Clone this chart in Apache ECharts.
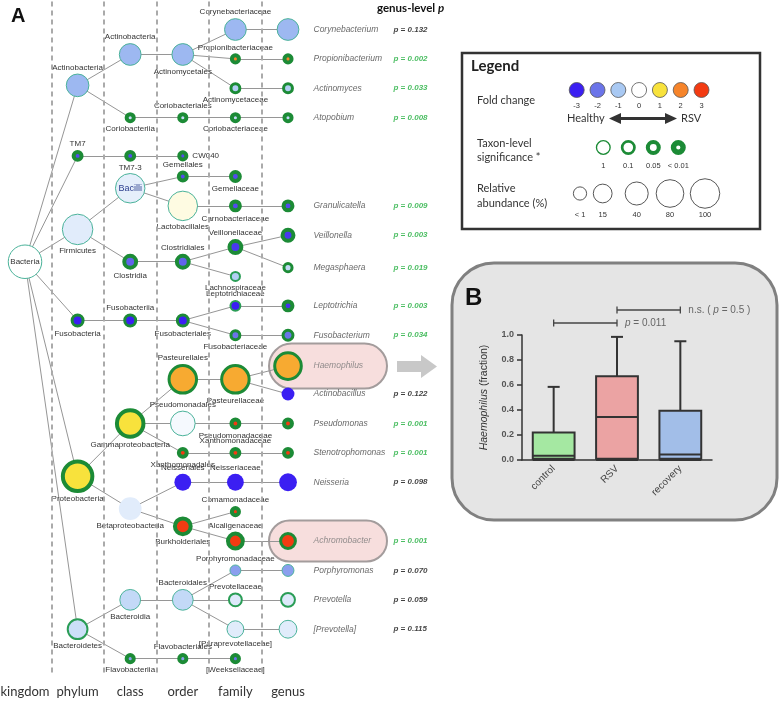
<!DOCTYPE html>
<html><head><meta charset="utf-8">
<script src="https://cdn.jsdelivr.net/npm/echarts@6/dist/echarts.min.js"></script>
<style>html,body{margin:0;padding:0;background:#fff}#c{width:779px;height:701px}</style>
</head><body><div id="c"></div>
<script>
// ---------------- data ----------------
const levels = ['kingdom', 'phylum', 'class', 'order', 'family', 'genus'];

// [name, level, parent (one level up), log fold change, taxon-level p, relative abundance %]
const taxa = [
  ['Bacteria', 0, null, 0, 1, 100],
  ['Actinobacteria', 1, 'Bacteria', -1.2, 0.5, 31],
  ['TM7', 1, 'Bacteria', -2.5, 0.005, 0.6],
  ['Firmicutes', 1, 'Bacteria', -0.35, 1, 77],
  ['Fusobacteria', 1, 'Bacteria', -3, 0.03, 2.6],
  ['Proteobacteria', 1, 'Bacteria', 1, 0.005, 92],
  ['Bacteroidetes', 1, 'Bacteria', -0.6, 0.08, 23],
  ['Actinobacteria', 2, 'Actinobacteria', -1.2, 1, 27],
  ['Coriobacteriia', 2, 'Actinobacteria', -0.7, 0.005, 0.2],
  ['TM7-3', 2, 'TM7', -2.5, 0.005, 0.6],
  ['Bacilli', 2, 'Firmicutes', -0.3, 1, 70],
  ['Clostridia', 2, 'Firmicutes', -2.2, 0.005, 5.8],
  ['Fusobacteriia', 2, 'Fusobacteria', -3, 0.03, 2.6],
  ['Gammaproteobacteria', 2, 'Proteobacteria', 1, 0.005, 70],
  ['Betaproteobacteria', 2, 'Proteobacteria', -0.35, null, 27],
  ['Bacteroidia', 2, 'Bacteroidetes', -0.7, 1, 23],
  ['Flavobacteriia', 2, 'Bacteroidetes', -1.5, 0.005, 0.2],
  ['Actinomycetales', 3, 'Actinobacteria', -1.2, 1, 27],
  ['Coriobacteriales', 3, 'Coriobacteriia', -0.7, 0.005, 0.2],
  ['CW040', 3, 'TM7-3', -2.5, 0.005, 0.2],
  ['Gemellales', 3, 'Bacilli', -2.5, 0.005, 0.6],
  ['Lactobacillales', 3, 'Bacilli', 0.15, 1, 70],
  ['Clostridiales', 3, 'Clostridia', -2.2, 0.005, 5.8],
  ['Fusobacteriales', 3, 'Fusobacteriia', -3, 0.03, 2.6],
  ['Pasteurellales', 3, 'Gammaproteobacteria', 1.6, 0.03, 70],
  ['Pseudomonadales', 3, 'Gammaproteobacteria', -0.12, 1, 41],
  ['Xanthomonadales', 3, 'Gammaproteobacteria', 3, 0.005, 0.6],
  ['Neisseriales', 3, 'Betaproteobacteria', -3, null, 7.8],
  ['Burkholderiales', 3, 'Betaproteobacteria', 3, 0.005, 16],
  ['Bacteroidales', 3, 'Bacteroidia', -0.7, 1, 23],
  ['Flavobacteriales', 3, 'Flavobacteriia', -1.5, 0.005, 0.2],
  ['Corynebacteriaceae', 4, 'Actinomycetales', -1.2, 1, 27],
  ['Propionibacteriaceae', 4, 'Actinomycetales', 2, 0.005, 0.2],
  ['Actinomycetaceae', 4, 'Actinomycetales', -0.9, 0.03, 0.6],
  ['Coriobacteriaceae', 4, 'Coriobacteriales', -0.7, 0.005, 0.2],
  ['Gemellaceae', 4, 'Gemellales', -2.5, 0.005, 1.4],
  ['Carnobacteriaceae', 4, 'Lactobacillales', -2.5, 0.005, 1.4],
  ['Veillonellaceae', 4, 'Clostridiales', -2.7, 0.005, 5.8],
  ['Lachnospiraceae', 4, 'Clostridiales', -0.9, 0.08, 0.2],
  ['Leptotrichiaceae', 4, 'Fusobacteriales', -3, 0.08, 0.6],
  ['Fusobacteriaceae', 4, 'Fusobacteriales', -2, 0.03, 0.6],
  ['Pasteurellaceae', 4, 'Pasteurellales', 1.6, 0.03, 70],
  ['Pseudomonadaceae', 4, 'Pseudomonadales', 3, 0.005, 0.6],
  ['Xanthomonadaceae', 4, 'Xanthomonadales', 3, 0.005, 0.6],
  ['Neisseriaceae', 4, 'Neisseriales', -3, null, 7.8],
  ['Comamonadaceae', 4, 'Burkholderiales', 3, 0.005, 0.2],
  ['Alcaligenaceae', 4, 'Burkholderiales', 3, 0.005, 13],
  ['Porphyromonadaceae', 4, 'Bacteroidales', -1.5, 0.5, 0.6],
  ['Prevotellaceae', 4, 'Bacteroidales', -0.4, 0.08, 4],
  ['[Paraprevotellaceae]', 4, 'Bacteroidales', -0.35, 1, 10.2],
  ['[Weeksellaceae]', 4, 'Flavobacteriales', -2, 0.005, 0.2],
  ['Corynebacterium', 5, 'Corynebacteriaceae', -1.2, 1, 27],
  ['Propionibacterium', 5, 'Propionibacteriaceae', 2, 0.005, 0.2],
  ['Actinomyces', 5, 'Actinomycetaceae', -0.9, 0.03, 0.6],
  ['Atopobium', 5, 'Coriobacteriaceae', -0.7, 0.005, 0.2],
  ['Granulicatella', 5, 'Carnobacteriaceae', -2.5, 0.005, 1.4],
  ['Veillonella', 5, 'Veillonellaceae', -2.7, 0.005, 4],
  ['Megasphaera', 5, 'Veillonellaceae', -0.7, 0.03, 0.2],
  ['Leptotrichia', 5, 'Leptotrichiaceae', -2.8, 0.005, 1.4],
  ['Fusobacterium', 5, 'Fusobacteriaceae', -2, 0.03, 1.4],
  ['Haemophilus', 5, 'Pasteurellaceae', 1.6, 0.03, 64],
  ['Actinobacillus', 5, 'Pasteurellaceae', -3, null, 1.4],
  ['Pseudomonas', 5, 'Pseudomonadaceae', 3, 0.005, 0.6],
  ['Stenotrophomonas', 5, 'Xanthomonadaceae', 3, 0.005, 0.6],
  ['Neisseria', 5, 'Neisseriaceae', -3, null, 10.2],
  ['Achromobacter', 5, 'Alcaligenaceae', 3, 0.03, 10.2],
  ['Porphyromonas', 5, 'Porphyromonadaceae', -1.5, 0.5, 1.4],
  ['Prevotella', 5, 'Prevotellaceae', -0.4, 0.08, 5.8],
  ['[Prevotella]', 5, '[Paraprevotellaceae]', -0.35, 1, 13]
];

// tree layout: row of each taxon (same order as taxa)
const layoutRow = [
  7.9,
  1.9, 4.3, 6.8, 9.9, 15.2, 20.4,
  0.85, 3.0, 4.3, 5.4, 7.9, 9.9, 13.4, 16.3, 19.4, 21.4,
  0.85, 3.0, 4.3, 5.0, 6.0, 7.9, 9.9, 11.9, 13.4, 14.4, 15.4, 16.9, 19.4, 21.4,
  0, 1, 2, 3, 5, 6, 7.4, 8.4, 9.4, 10.4, 11.9, 13.4, 14.4, 15.4, 16.4, 17.4, 18.4, 19.4, 20.4, 21.4,
  0, 1, 2, 3, 6, 7.0, 8.1, 9.4, 10.4, 11.45, 12.4, 13.4, 14.4, 15.4, 17.4, 18.4, 19.4, 20.4
];
const labelSide = [
  'inside',
  'top', 'top', 'bottom', 'bottom', 'bottom', 'bottom',
  'top', 'bottom', 'bottom', 'inside', 'bottom', 'top', 'bottom', 'bottom', 'bottom', 'bottom',
  'bottom', 'top', 'right', 'top', 'bottom', 'top', 'bottom', 'top', 'top', 'bottom', 'top', 'bottom', 'top', 'top',
  'top', 'top', 'bottom', 'bottom', 'bottom', 'bottom', 'top', 'bottom', 'top', 'bottom', 'bottom', 'bottom', 'top', 'top', 'top', 'top', 'top', 'top', 'bottom', 'bottom'
];

// genus-level p values (same order as genus rows)
const genusPValues = ['0.132', '0.002', '0.033', '0.008', '0.009', '0.003', '0.019', '0.003', '0.034', null,
  '0.122', '0.001', '0.001', '0.098', '0.001', '0.070', '0.059', '0.115'];
const highlighted = ['Haemophilus', 'Achromobacter'];

// legend keys
const foldTicks = [-3, -2, -1, 0, 1, 2, 3];
const sigTicks = ['1', '0.1', '0.05', '< 0.01'];
const sigTickP = [1, 0.1, 0.05, 0.005];
const abundanceTicks = ['< 1', '15', '40', '80', '100'];
const abundanceTickVal = [0.5, 15, 40, 80, 100];

// panel B: Haemophilus fraction  [min, Q1, median, Q3, max]
const groups = ['control', 'RSV', 'recovery'];
const boxStats = [
  [0, 0.01, 0.035, 0.22, 0.585],
  [0, 0.01, 0.345, 0.67, 0.985],
  [0, 0.01, 0.045, 0.395, 0.95]
];
// comparisons [from group, to group, bracket height]
const comparisons = [[0, 1, 1.096], [1, 2, 1.2]];
const comparisonText = ['{i|p} = 0.011', 'n.s. ( {i|p} = 0.5 )'];

// ---------------- visual mappings ----------------
const foldColors = ['#3b1ff2', '#6b74e9', '#a9c9f3', '#ffffff', '#f8e23c', '#f6842a', '#f33b12'];
function hex(c) { return [1, 3, 5].map(i => parseInt(c.substr(i, 2), 16)); }
function foldColor(f) {
  f = Math.max(-3, Math.min(3, f));
  const i = Math.min(5, Math.floor(f + 3));
  const t = f + 3 - i;
  const a = hex(foldColors[i]), b = hex(foldColors[i + 1]);
  const m = a.map((v, k) => Math.round(v + (b[k] - v) * t));
  return 'rgb(' + m.join(',') + ')';
}
function sigWidth(p) {
  if (p == null) return 0;
  if (p < 0.01) return 4;
  if (p <= 0.05) return 3;
  if (p <= 0.1) return 2;
  return 1;
}
function sigColor(w) { return w >= 3 ? '#1c8b36' : (w === 2 ? '#2a9d56' : '#4bb39a'); }
function abDiam(a) { return 10 + 2.45 * Math.sqrt(a); }
function legendAbDiam(a) { return 12 + 1.75 * Math.sqrt(a); }

// ---------------- build series data ----------------
const FONT = "'Liberation Sans', Arial, sans-serif";
const CAL = "Lato, 'Open Sans', sans-serif";

const nodeData = taxa.map((t, i) => {
  const [name, level, , fold, p, ab] = t;
  const w = sigWidth(p);
  const side = labelSide[i];
  return {
    name: name,
    value: [level, layoutRow[i]],
    symbolSize: Math.max(abDiam(ab) - w, 2),
    itemStyle: { color: foldColor(fold), borderColor: w ? sigColor(w) : 'transparent', borderWidth: w, opacity: 1 },
    label: {
      show: level < 5,
      position: side,
      distance: side === 'right' ? 4 : 2,
      formatter: name,
      fontSize: side === 'inside' && name === 'Bacilli' ? 9 : 8,
      color: name === 'Bacilli' ? '#2d3f8f' : '#333',
      fontFamily: FONT,
      textBorderWidth: 0,
      textBorderColor: 'transparent',
      backgroundColor: 'transparent'
    }
  };
});

const edgeData = [];
taxa.forEach((t, i) => {
  if (t[2] == null) return;
  const pi = taxa.findIndex(u => u[0] === t[2] && u[1] === t[1] - 1);
  edgeData.push({ coords: [[taxa[pi][1], layoutRow[pi]], [t[1], layoutRow[i]]] });
});

const genusIdx = taxa.map((t, i) => i).filter(i => taxa[i][1] === 5);
const genusNameData = genusIdx.map(i => ({
  value: [5, layoutRow[i]],
  label: { formatter: taxa[i][0], color: highlighted.includes(taxa[i][0]) ? '#777' : '#444' }
}));
const genusPData = genusIdx.map((i, k) => genusPValues[k] == null ? null : ({
  value: [5, layoutRow[i]],
  label: { formatter: 'p = ' + genusPValues[k], color: parseFloat(genusPValues[k]) < 0.05 ? '#1fae3c' : '#111' }
})).filter(d => d);

const dividers = levels.slice(1).map((_, i) => ({ xAxis: i + 0.5 }));
const boxColors = ['#a5e8a2', '#eba3a3', '#a2bee8'];

// ---------------- chart ----------------
const chart = echarts.init(document.getElementById('c'), null, { renderer: 'canvas' });
const option = {
  animation: false,
  backgroundColor: '#ffffff',
  grid: [
    { left: 25, width: 263, top: 1.57, height: 674.7, containLabel: false, outerBoundsMode: 'none' },
    { left: 522, width: 190, top: 335, height: 125, containLabel: false, outerBoundsMode: 'none' }
  ],
  xAxis: [
    {
      gridIndex: 0, type: 'value', min: 0, max: 5, interval: 1,
      axisLine: { show: false }, axisTick: { show: false }, splitLine: { show: false },
      axisLabel: { show: true, showMinLabel: true, showMaxLabel: true, margin: 9, fontSize: 13, color: '#333', fontFamily: CAL,
        formatter: v => levels[v] || '' }
    },
    {
      gridIndex: 1, type: 'category', data: groups, z: 3,
      axisLine: { lineStyle: { color: '#333', width: 1.5 } },
      axisTick: { alignWithLabel: true, length: 4, lineStyle: { color: '#333', width: 1.5 } },
      axisLabel: { rotate: 45, margin: 7, fontSize: 10, color: '#444', fontFamily: FONT },
      splitLine: { show: false }
    }
  ],
  yAxis: [
    { gridIndex: 0, type: 'value', min: -0.95, max: 22, inverse: true, show: false },
    {
      gridIndex: 1, type: 'value', min: 0, max: 1, interval: 0.2, z: 3,
      axisLine: { show: true, lineStyle: { color: '#333', width: 1.5 } },
      axisTick: { show: true, length: 5, lineStyle: { color: '#333', width: 1.5 } },
      axisLabel: { margin: 8, fontSize: 9, fontWeight: 'bold', color: '#555', fontFamily: FONT, formatter: v => v.toFixed(1) },
      splitLine: { show: false },
      name: '{i|Haemophilus} (fraction)', nameLocation: 'middle', nameGap: 32, nameRotate: 90,
      nameTextStyle: { fontSize: 10.5, color: '#333', fontFamily: FONT,
        rich: { i: { fontStyle: 'italic', fontSize: 10.5, color: '#333', fontFamily: FONT } } }
    }
  ],
  series: [
    {
      type: 'scatter', xAxisIndex: 0, yAxisIndex: 0, data: [], z: 0, silent: true,
      markLine: { silent: true, symbol: 'none', label: { show: false },
        lineStyle: { color: '#aaaaaa', width: 2, type: [5, 4] }, data: dividers }
    },
    {
      type: 'lines', coordinateSystem: 'cartesian2d', xAxisIndex: 0, yAxisIndex: 0, z: 1, silent: true,
      lineStyle: { color: '#969696', width: 1, opacity: 1 }, data: edgeData
    },
    {
      type: 'scatter', xAxisIndex: 0, yAxisIndex: 0, z: 3, symbol: 'circle', data: nodeData,
      itemStyle: { opacity: 1 },
      emphasis: { disabled: true }
    },
    {
      type: 'scatter', xAxisIndex: 0, yAxisIndex: 0, z: 4, symbolSize: 1, itemStyle: { color: 'transparent' },
      label: { show: true, position: 'right', distance: 25, fontSize: 8.5, fontStyle: 'italic', fontFamily: FONT },
      data: genusNameData, silent: true
    },
    {
      type: 'scatter', xAxisIndex: 0, yAxisIndex: 0, z: 4, symbolSize: 1, itemStyle: { color: 'transparent' },
      label: { show: true, position: 'right', distance: 105, fontSize: 8, fontStyle: 'italic', fontWeight: 'bold', fontFamily: FONT },
      data: genusPData, silent: true
    },
    {
      type: 'custom', xAxisIndex: 1, yAxisIndex: 1, z: 4, clip: false,
      encode: { x: 0, y: [1, 2, 3, 4, 5] },
      data: boxStats.map((s, i) => [i].concat(s)),
      renderItem: function (params, api) {
        const i = api.value(0);
        const band = api.size([1, 0])[0];
        const bw = band * 0.66, cw = band * 0.19;
        const cx = api.coord([i, 0])[0];
        const y = k => api.coord([i, api.value(k)])[1];
        const yMin = y(1), yQ1 = y(2), yMd = y(3), yQ3 = y(4), yMax = y(5);
        const st = { stroke: '#333', lineWidth: 2, fill: null };
        return { type: 'group', children: [
          { type: 'line', shape: { x1: cx, y1: yQ3, x2: cx, y2: yMax }, style: st },
          { type: 'line', shape: { x1: cx - cw / 2, y1: yMax, x2: cx + cw / 2, y2: yMax }, style: st },
          { type: 'line', shape: { x1: cx, y1: yQ1, x2: cx, y2: yMin }, style: st },
          { type: 'rect', shape: { x: cx - bw / 2, y: yQ3, width: bw, height: yQ1 - yQ3 },
            style: { fill: boxColors[i], stroke: '#333', lineWidth: 2 } },
          { type: 'line', shape: { x1: cx - bw / 2, y1: yMd, x2: cx + bw / 2, y2: yMd }, style: st },
          { type: 'line', shape: { x1: cx - bw / 2, y1: yMin, x2: cx + bw / 2, y2: yMin }, style: st }
        ] };
      }
    },
    {
      type: 'custom', xAxisIndex: 1, yAxisIndex: 1, z: 4, clip: false,
      encode: { x: 0, y: 2 },
      data: comparisons,
      renderItem: function (params, api) {
        const a = api.coord([api.value(0), api.value(2)]);
        const b = api.coord([api.value(1), api.value(2)]);
        const st = { stroke: '#444', lineWidth: 1.3 };
        return { type: 'group', children: [
          { type: 'line', shape: { x1: a[0], y1: a[1], x2: b[0], y2: b[1] }, style: st },
          { type: 'line', shape: { x1: a[0], y1: a[1] - 3.5, x2: a[0], y2: a[1] + 3.5 }, style: st },
          { type: 'line', shape: { x1: b[0], y1: b[1] - 3.5, x2: b[0], y2: b[1] + 3.5 }, style: st },
          { type: 'text', style: { x: b[0] + 8, y: b[1], text: comparisonText[params.dataIndex],
            fill: '#666', font: '10px ' + FONT, align: 'left', verticalAlign: 'middle',
            textAlign: 'left', textVerticalAlign: 'middle',
            rich: { i: { fontStyle: 'italic', fontSize: 10, fill: '#666', fontFamily: FONT } } } }
        ] };
      }
    }
  ]
};
chart.setOption(option);

// ---------------- annotations ----------------
function txt(x, y, text, font, fill, align, extra) {
  return Object.assign({ type: 'text', z: 10, style: Object.assign({ x: x, y: y, text: text, font: font, fill: fill || '#222',
    align: align || 'left', verticalAlign: 'middle', textAlign: align || 'left', textVerticalAlign: 'middle' }, extra || {}) });
}
const g = [];
// highlight boxes behind selected genera
highlighted.forEach(n => {
  const i = taxa.findIndex(t => t[0] === n && t[1] === 5);
  const p = chart.convertToPixel({ gridIndex: 0 }, [5, layoutRow[i]]);
  const h = n === 'Haemophilus' ? 45 : 41;
  g.push({ type: 'rect', z: 0, shape: { x: p[0] - 19, y: p[1] - h / 2, width: 118, height: h, r: h / 2 },
    style: { fill: '#f7dedd', stroke: '#a39c9c', lineWidth: 2 } });
});
g.push(txt(11, 16, 'A', 'bold 20px ' + FONT, '#111'));
g.push(txt(377, 8, 'genus-level {i|p}', 'bold 11.5px ' + CAL, '#111', 'left',
  { rich: { i: { fontStyle: 'italic', fontWeight: 'bold', fontSize: 11.5, fontFamily: CAL, fill: '#111' } } }));
// arrow to panel B
g.push({ type: 'polygon', z: 1, shape: { points: [[397, 361], [421, 361], [421, 355], [437, 366.5], [421, 378], [421, 372], [397, 372]] },
  style: { fill: '#c8c8c8' } });
// legend panel
g.push({ type: 'rect', z: 1, shape: { x: 462, y: 53, width: 298, height: 176 }, style: { fill: '#fff', stroke: '#333', lineWidth: 2.5 } });
g.push(txt(471, 66, 'Legend', 'bold 15px ' + CAL, '#222'));
g.push(txt(477, 100, 'Fold change', '11px ' + CAL, '#333'));
foldTicks.forEach((f, k) => {
  const cx = 576.7 + k * 20.8;
  g.push({ type: 'circle', z: 5, shape: { cx: cx, cy: 90, r: 7.5 }, style: { fill: foldColor(f), stroke: '#555', lineWidth: 0.8 } });
  g.push(txt(cx, 105.5, String(f), '7.5px ' + FONT, '#333', 'center'));
});
g.push(txt(567, 118.5, 'Healthy', '11px ' + CAL, '#333'));
g.push(txt(681, 118.5, 'RSV', '11px ' + CAL, '#333'));
g.push({ type: 'line', z: 5, shape: { x1: 618, y1: 118.5, x2: 668, y2: 118.5 }, style: { stroke: '#333', lineWidth: 3 } });
g.push({ type: 'polygon', z: 5, shape: { points: [[609, 118.5], [621, 113], [621, 124]] }, style: { fill: '#333' } });
g.push({ type: 'polygon', z: 5, shape: { points: [[677, 118.5], [665, 113], [665, 124]] }, style: { fill: '#333' } });
g.push(txt(477, 143, 'Taxon-level', '11px ' + CAL, '#333'));
g.push(txt(477, 157, 'significance *', '11px ' + CAL, '#333'));
sigTicks.forEach((s, k) => {
  const cx = 603.3 + k * 25;
  const w = sigWidth(sigTickP[k]) * 1.35;
  g.push({ type: 'circle', z: 5, shape: { cx: cx, cy: 147.5, r: (15 - w) / 2 }, style: { fill: '#fff', stroke: '#1c8b36', lineWidth: w } });
  g.push(txt(cx, 166, s, '7.5px ' + FONT, '#333', 'center'));
});
g.push(txt(477, 188.5, 'Relative', '11px ' + CAL, '#333'));
g.push(txt(477, 203.5, 'abundance (%)', '11px ' + CAL, '#333'));
const abX = [580, 602.7, 636.7, 670, 705];
abundanceTicks.forEach((s, k) => {
  const d = legendAbDiam(abundanceTickVal[k]);
  g.push({ type: 'circle', z: 5, shape: { cx: abX[k], cy: 193.5, r: d / 2 }, style: { fill: '#fff', stroke: '#444', lineWidth: 0.9 } });
  g.push(txt(abX[k], 214.5, s, '7.5px ' + FONT, '#333', 'center'));
});
// panel B background
g.push({ type: 'rect', z: -1, shape: { x: 452, y: 263, width: 325, height: 257, r: 42 }, style: { fill: '#e5e5e5', stroke: '#808080', lineWidth: 3 } });
g.push(txt(465, 298, 'B', 'bold 24px ' + FONT, '#111'));

chart.setOption({ graphic: { elements: g } });
</script></body></html>
